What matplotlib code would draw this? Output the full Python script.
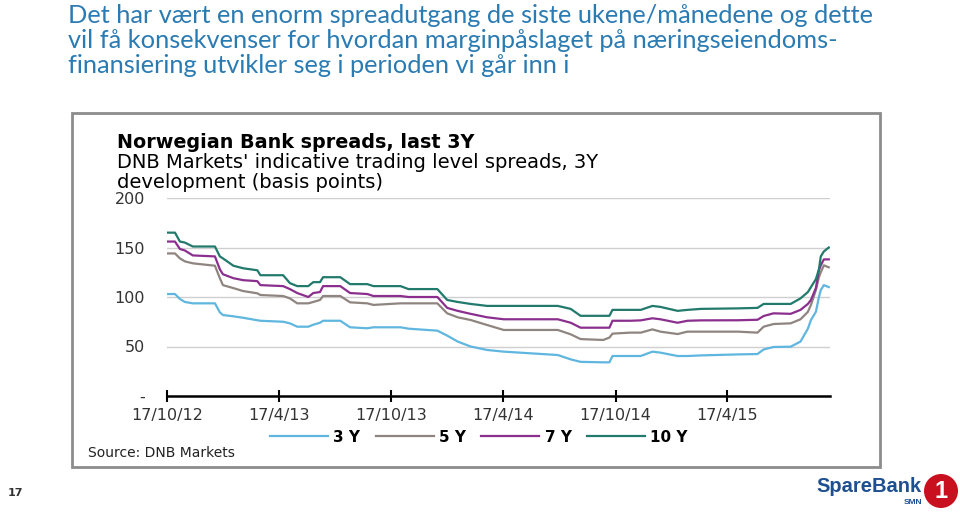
from matplotlib import pyplot as plt
from matplotlib.patches import Rectangle, Ellipse
import pandas as pd

### Data

dates = ['2012-10-17', '2012-10-30', '2012-11-07', '2012-11-15', '2012-11-28',
         '2013-01-03', '2013-01-11', '2013-01-16', '2013-02-02', '2013-02-18',
         '2013-03-13', '2013-03-18', '2013-04-24', '2013-05-05', '2013-05-17',
         '2013-06-04', '2013-06-12', '2013-06-23', '2013-06-28', '2013-07-26',
         '2013-08-11', '2013-09-08', '2013-09-18', '2013-11-01', '2013-11-14',
         '2013-12-31', '2014-01-16', '2014-02-02', '2014-02-23', '2014-03-22',
         '2014-04-18', '2014-07-15', '2014-08-05', '2014-08-21', '2014-09-27',
         '2014-10-07', '2014-10-12', '2014-11-10', '2014-11-27', '2014-12-16',
         '2014-12-29', '2015-01-26', '2015-02-11', '2015-03-05', '2015-05-04',
         '2015-06-05', '2015-06-15', '2015-07-01', '2015-07-29', '2015-08-14',
         '2015-08-26', '2015-08-31', '2015-09-08', '2015-09-13', '2015-09-16',
         '2015-09-21', '2015-09-29']

y3 = [103, 103, 98, 95, 93.6, 93.6, 84.5, 81.8, 80.5, 79,
      76.5, 76, 75, 73.4, 70, 70, 72, 74, 76, 76,
      69.4, 68.4, 69.4, 69.4, 68, 66, 61, 55, 50, 46.5,
      44.8, 41.4, 37, 34.5, 34, 34, 40.4, 40.4, 40.4, 44.8,
      43.8, 40.4, 40.4, 41, 42, 42.4, 47, 49.5, 49.8, 55,
      68, 76.8, 85, 100, 107, 112, 110]

y5 = [144, 144, 139, 136, 134, 131.6, 119, 112, 109, 106,
      103.7, 102, 101, 98.6, 93.6, 93.6, 95, 97, 101, 101,
      94.6, 93.6, 92, 93.6, 93.6, 93.6, 83.5, 79.5, 76.8, 71.7,
      66.7, 66.7, 62.3, 57.5, 56.6, 59, 63, 64, 64, 67.3,
      65, 62.6, 65, 65, 65, 64, 70, 72.7, 73.4, 77.5,
      85, 92, 107, 120, 125, 132, 130]

y7 = [156, 156, 148.5, 147, 142, 141, 128, 123, 119, 117,
      116, 112, 111, 108, 104, 100, 104, 105, 111, 111,
      104, 103, 101, 101, 100, 100, 89, 86, 83, 79.5,
      77.5, 77.5, 74, 69, 69, 69, 76, 76, 76.4, 78.5,
      77.5, 74, 76, 76.4, 76.5, 77, 80.8, 83.5, 83, 87,
      93, 97, 109, 127, 132, 138, 138]

y10 = [165, 165, 156, 155, 151, 151, 141, 139, 131.6, 129,
       127, 122, 122, 114, 111, 111, 115, 115, 120, 120,
       113, 113, 111, 111, 108, 108, 97, 95, 93, 91,
       91, 91, 88, 81, 81, 81, 87, 87, 87, 91,
       90, 86, 87, 88, 88.5, 89, 93, 93, 93, 98.6,
       105, 110, 118, 128, 141, 146, 150]

series = [('3 Y', y3, '#5fb6de'),
          ('5 Y', y5, '#8f8580'),
          ('7 Y', y7, '#8a2f8e'),
          ('10 Y', y10, '#217a6c')]

xticks = ['2012-10-17', '2013-04-17', '2013-10-17', '2014-04-17', '2014-10-17', '2015-04-17']
xlabels = ['17/10/12', '17/4/13', '17/10/13', '17/4/14', '17/10/14', '17/4/15']
yticks = [0, 50, 100, 150, 200]
ylabels = ['-', '50', '100', '150', '200']

title = ("Det har vært en enorm spreadutgang de siste ukene/månedene og dette\n"
         "vil få konsekvenser for hvordan marginpåslaget på næringseiendoms-\n"
         "finansiering utvikler seg i perioden vi går inn i")

### Figure

W, H = 960, 512

def px(x, y):
  return x / W, 1 - y / H

fig = plt.figure(figsize=(W / 100, H / 100), dpi=100)
fig.patch.set_facecolor('white')

fig.text(*px(68, 4), title, ha='left', va='top', fontsize=18.3, color='#2b7bb3',
         family='Lato', linespacing=1.1)

# grey frame of the pasted chart
fig.patches.append(Rectangle(px(72, 467), (880 - 72) / W, (467 - 113) / H,
                             transform=fig.transFigure, fill=False,
                             edgecolor='#8c8c8c', lw=2))

chart_font = 'DejaVu Sans'
fig.text(*px(117, 143), 'Norwegian Bank spreads, last 3Y', ha='left', va='center',
         fontsize=13.8, weight='bold', family=chart_font, color='black')
fig.text(*px(117, 162), "DNB Markets' indicative trading level spreads, 3Y", ha='left',
         va='center', fontsize=14, family=chart_font, color='black')
fig.text(*px(117, 183), 'development (basis points)', ha='left', va='center',
         fontsize=14, family=chart_font, color='black')

x0, x1 = 167, 830
ax = fig.add_axes([x0 / W, (H - 396) / H, (x1 - x0) / W, (396 - 198) / H])
d = pd.to_datetime(dates)
for name, vals, col in series:
  ax.plot(d, vals, color=col, lw=1.6, label=name)

ax.set_xlim(pd.Timestamp('2012-10-17'), pd.Timestamp('2015-10-01'))
ax.set_ylim(0, 200)
ax.set_yticks(yticks)
ax.set_yticklabels(ylabels)
ax.set_xticks(pd.to_datetime(xticks))
ax.set_xticklabels(xlabels)
ax.grid(axis='y', color='#cfcfcf', lw=1)
ax.set_axisbelow(True)
for s in ['top', 'right', 'left']:
  ax.spines[s].set_visible(False)
ax.spines['bottom'].set_color('black')
ax.spines['bottom'].set_linewidth(1.8)
ax.tick_params(axis='y', length=0, pad=16, labelsize=11.5, labelcolor='#333333')
ax.tick_params(axis='x', direction='inout', length=9, width=1.5, pad=4,
               labelsize=11.5, labelcolor='#333333')
for lab in ax.get_xticklabels() + ax.get_yticklabels():
  lab.set_family(chart_font)

leg = fig.legend(loc='center', bbox_to_anchor=px(479, 437), ncol=4, frameon=False,
                 handlelength=3.8, columnspacing=1.0, handletextpad=0.35,
                 prop={'family': chart_font, 'size': 11, 'weight': 'bold'})

fig.text(*px(88, 453), 'Source: DNB Markets', ha='left', va='center', fontsize=10,
         family=chart_font, color='#222222')

# page number and logo
fig.text(*px(8, 493), '17', ha='left', va='center', fontsize=8, weight='bold',
         color='#333333')
fig.text(*px(922, 487), 'SpareBank', ha='right', va='center', fontsize=14.5,
         weight='bold', color='#1d4f91', family='Liberation Sans')
fig.text(*px(922, 503), 'SMN', ha='right', va='center', fontsize=6, weight='bold',
         color='#1d4f91', family='Liberation Sans')
fig.patches.append(Ellipse(px(941, 491), 34 / W, 34 / H, transform=fig.transFigure,
                           facecolor='#c8101e', edgecolor='none'))
fig.text(*px(941, 492), '1', ha='center', va='center', fontsize=17, weight='bold',
         color='white', family='Liberation Sans')

fig.savefig('out.png', dpi=100)
